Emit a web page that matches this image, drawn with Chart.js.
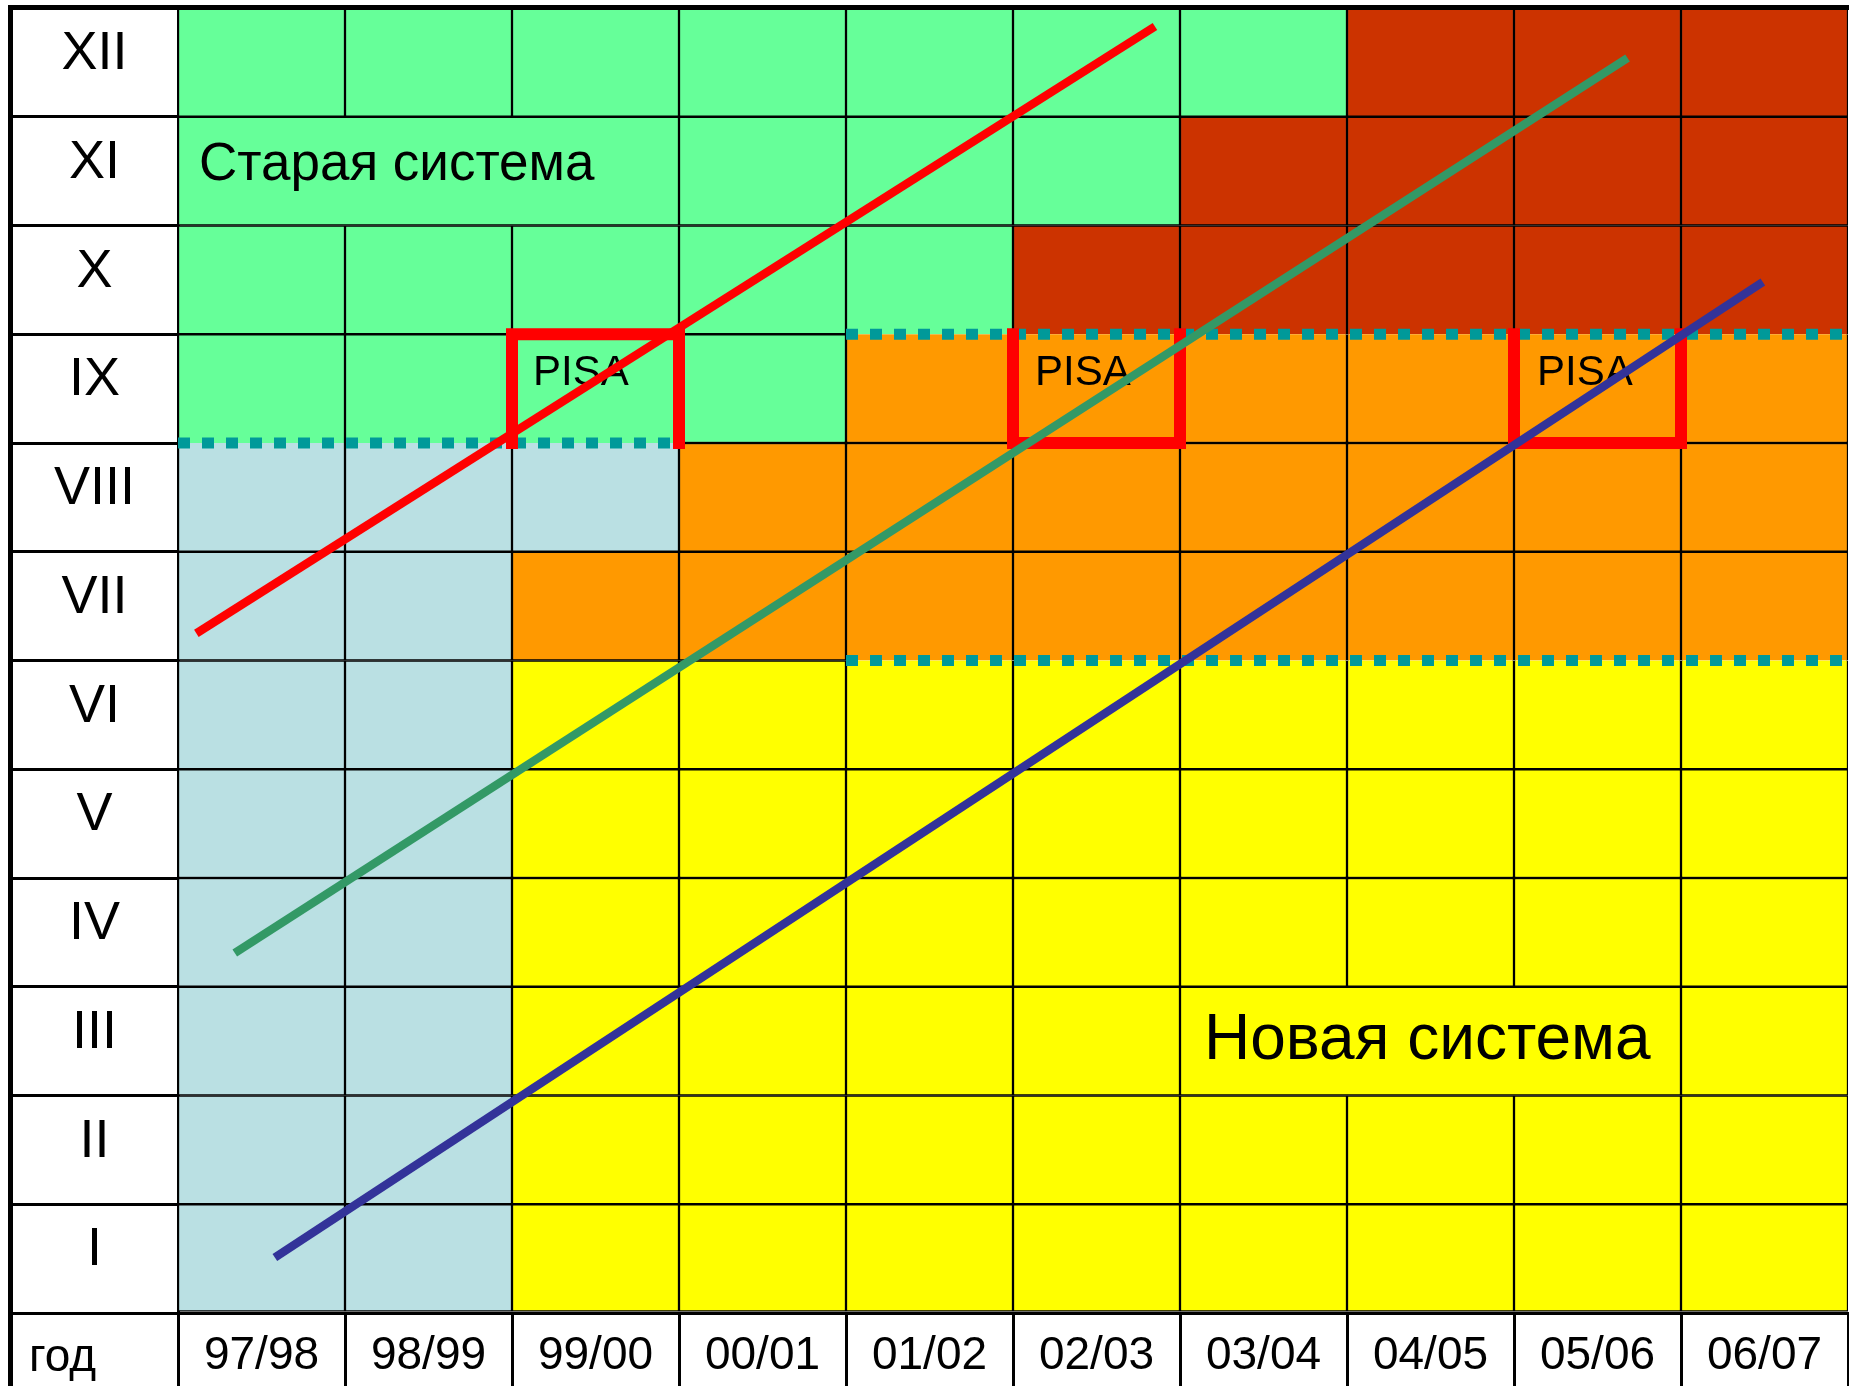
<!DOCTYPE html>
<html>
<head>
<meta charset="utf-8">
<script src="https://cdn.jsdelivr.net/npm/chart.js@4.4.1/dist/chart.umd.min.js"></script>
<style>
    html, body { margin: 0; padding: 0; background: #fff; }
    #wrap { position: relative; width: 1849px; height: 1386px; }
</style>
</head>
<body>
<div id="wrap"><canvas id="schoolChart"></canvas></div>
<script>
const years = ['97/98', '98/99', '99/00', '00/01', '01/02', '02/03', '03/04', '04/05', '05/06', '06/07'];
const grades = ['I', 'II', 'III', 'IV', 'V', 'VI', 'VII', 'VIII', 'IX', 'X', 'XI', 'XII'];
const cornerLabel = 'год';

// grade span [from, to) of each colour band, one entry per school year
const oldPrimary = [[0, 8], [0, 8], [7, 8], null, null, null, null, null, null, null];
const oldSystem  = [[8, 12], [8, 12], [8, 12], [8, 12], [9, 12], [10, 12], [11, 12], null, null, null];
const newPrimary = [null, null, [0, 6], [0, 6], [0, 6], [0, 6], [0, 6], [0, 6], [0, 6], [0, 6]];
const newBasic   = [null, null, [6, 7], [6, 8], [6, 9], [6, 9], [6, 9], [6, 9], [6, 9], [6, 9]];
const newUpper   = [null, null, null, null, null, [9, 10], [9, 11], [9, 12], [9, 12], [9, 12]];

// cohorts moving one grade per year
const cohortRed   = [{ x: 0.11, y: 6.25 }, { x: 5.85, y: 11.83 }];
const cohortGreen = [{ x: 0.34, y: 3.31 }, { x: 8.68, y: 11.54 }];
const cohortBlue  = [{ x: 0.58, y: 0.51 }, { x: 9.49, y: 9.48 }];

// PISA years (open frames round grade IX)
const pisaBoxes = [
    [[2, 8], [2, 9], [3, 9], [3, 8]],
    [[5, 9], [5, 8], [6, 8], [6, 9]],
    [[8, 9], [8, 8], [9, 8], [9, 9]]
];

// dotted borders between stages
const dottedBorders = [
    { y: 8, from: 0, to: 3 },
    { y: 9, from: 4, to: 10 },
    { y: 6, from: 4, to: 10 }
];

// merged cells carrying the captions
const mergedCells = [
    { row: 10, from: 0, to: 3 },
    { row: 2, from: 6, to: 9 }
];

const notes = [
    { text: 'Старая система', col: 0, row: 10, size: 53, dx: 21, dy: 63 },
    { text: 'Новая система', col: 6, row: 2, size: 64, dx: 24, dy: 72 },
    { text: 'PISA', col: 2, row: 8, size: 42, dx: 21, dy: 51 },
    { text: 'PISA', col: 5, row: 8, size: 42, dx: 22, dy: 51 },
    { text: 'PISA', col: 8, row: 8, size: 42, dx: 23, dy: 51 }
];

const FAMILY = '"Liberation Sans", Arial, sans-serif';
const LINE = 1.5;

function cellsOf(spans) {
    const cells = [];
    spans.forEach((span, col) => {
        if (!span) return;
        for (let r = span[0]; r < span[1]; r++) {
            cells.push({ x: col + 0.5, y: [r, r + 1], col: col, row: r });
        }
    });
    return cells;
}

function cellBorder(ctx) {
    const cell = ctx.raw;
    if (!cell) return LINE;
    const inner = b => mergedCells.some(m => m.row === cell.row && b > m.from && b < m.to);
    const dotted = y => dottedBorders.some(d => d.y === y && cell.col >= d.from && cell.col < d.to);
    return {
        left: inner(cell.col) ? 0 : LINE,
        right: inner(cell.col + 1) ? 0 : LINE,
        top: dotted(cell.row + 1) ? 0 : LINE,
        bottom: dotted(cell.row) ? 0 : LINE
    };
}

function band(label, spans, color) {
    return {
        type: 'bar',
        label: label,
        data: cellsOf(spans),
        backgroundColor: color,
        borderColor: '#000',
        borderWidth: cellBorder,
        borderSkipped: false,
        grouped: false,
        barPercentage: 1,
        categoryPercentage: 1,
        order: 3
    };
}

function polyline(label, parts, color, width, extra) {
    const data = [];
    parts.forEach((p, i) => {
        if (i > 0) data.push({ x: null, y: null });
        p.forEach(pt => data.push({ x: pt[0], y: pt[1] }));
    });
    return Object.assign({
        type: 'line', label: label, data: data, borderColor: color, borderWidth: width,
        pointRadius: 0, fill: false, spanGaps: false, tension: 0
    }, extra);
}

function cohort(label, points, color) {
    return {
        type: 'line', label: label, data: points, borderColor: color, borderWidth: 8.5,
        pointRadius: 0, fill: false, tension: 0, order: 0
    };
}

// centre the roman numerals in the first column
const measure = document.createElement('canvas').getContext('2d');
measure.font = '54px ' + FAMILY;
const widest = Math.max(...grades.map(g => measure.measureText(g).width));
const Y_AXIS_W = 170;

const tablePlugin = {
    id: 'table',
    afterDatasetDraw(chart, args) {
        if (chart.data.datasets[args.index].label !== 'PISA') return;
        const { ctx, scales: { x, y } } = chart;
        ctx.save();
        ctx.fillStyle = '#000';
        ctx.textBaseline = 'alphabetic';
        ctx.textAlign = 'left';
        notes.forEach(n => {
            ctx.font = n.size + 'px ' + FAMILY;
            ctx.fillText(n.text, x.getPixelForValue(n.col) + n.dx, y.getPixelForValue(n.row + 1) + n.dy);
        });
        ctx.font = '46px ' + FAMILY;
        ctx.fillText(cornerLabel, y.left + 21, x.top + 58);
        ctx.restore();
    },
    afterDraw(chart) {
        const { ctx, chartArea, scales: { y } } = chart;
        ctx.save();
        ctx.fillStyle = '#000';
        ctx.fillRect(y.left, chartArea.top - 3, 5, chart.height);
        ctx.fillRect(y.left, chartArea.top - 3, chart.width, 5);
        ctx.restore();
    }
};

new Chart(document.getElementById('schoolChart'), {
    type: 'bar',
    data: {
        datasets: [
            cohort('cohort 1', cohortRed, '#FF0000'),
            cohort('cohort 2', cohortGreen, '#339966'),
            cohort('cohort 3', cohortBlue, '#333399'),
            polyline('PISA', pisaBoxes, '#FF0000', 12, { order: 1, borderCapStyle: 'square', borderJoinStyle: 'miter' }),
            polyline('borders', dottedBorders.map(d => [[d.from, d.y], [d.to, d.y]]), '#009999', 11,
                { order: 2, borderDash: [12, 12], borderCapStyle: 'butt' }),
            band('old primary', oldPrimary, '#BAE0E3'),
            band('old system', oldSystem, '#66FF99'),
            band('new primary', newPrimary, '#FFFF00'),
            band('new basic', newBasic, '#FF9900'),
            band('new upper', newUpper, '#CC3300')
        ]
    },
    options: {
        responsive: true,
        maintainAspectRatio: false,
        animation: false,
        events: [],
        layout: { padding: { left: 8, top: 8, right: 1, bottom: 0 } },
        plugins: {
            legend: { display: false },
            tooltip: { enabled: false }
        },
        scales: {
            x: {
                type: 'linear',
                min: 0,
                max: 10,
                offset: false,
                afterFit: s => { s.height = 73; },
                ticks: {
                    stepSize: 1,
                    autoSkip: false,
                    maxRotation: 0,
                    callback: v => years[v] ?? '',
                    font: { family: FAMILY, size: 46 },
                    color: '#000',
                    padding: -57.5,
                    labelOffset: 83.5
                },
                grid: { offset: false, drawOnChartArea: false, tickLength: 73, lineWidth: 3, color: '#000' },
                border: { display: true, color: '#000', width: 3 }
            },
            y: {
                type: 'linear',
                min: 0,
                max: 12,
                afterFit: s => { s.width = Y_AXIS_W; },
                ticks: {
                    stepSize: 1,
                    autoSkip: false,
                    callback: v => grades[v] ?? '',
                    font: { family: FAMILY, size: 54 },
                    color: '#000',
                    crossAlign: 'center',
                    padding: -86.5 - widest / 2,
                    labelOffset: -62.5
                },
                grid: { drawOnChartArea: false, tickLength: Y_AXIS_W, lineWidth: 3, color: '#000' },
                border: { display: true, color: '#000', width: 3 }
            }
        }
    },
    plugins: [tablePlugin]
});
</script>
</body>
</html>
